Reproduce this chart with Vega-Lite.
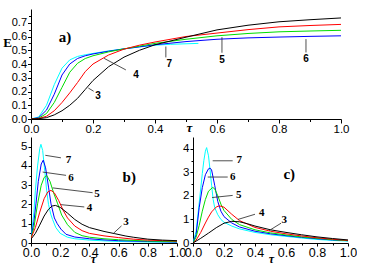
{
  "$schema": "https://vega.github.io/schema/vega-lite/v6.json",
  "padding": {"left": 2, "top": 9, "right": 0, "bottom": 0},
  "background": "white",
  "config": {
    "view": {"stroke": null},
    "axis": {"grid": false, "domainColor": "black", "tickColor": "black", "labelColor": "black", "labelFont": "Liberation Sans", "labelOverlap": false, "labelFlush": false, "domainWidth": 1, "tickWidth": 1, "titleColor": "black"},
    "text": {"color": "black"}
  },
  "bounds": "flush",
  "spacing": 18,
  "datasets": {
    "a": [
      {"s":"7","t":0,"v":0},{"s":"7","t":0.025,"v":0.015},{"s":"7","t":0.05,"v":0.1},{"s":"7","t":0.075,"v":0.25},{"s":"7","t":0.1,"v":0.37},{"s":"7","t":0.125,"v":0.43},{"s":"7","t":0.15,"v":0.455},{"s":"7","t":0.175,"v":0.467},{"s":"7","t":0.2,"v":0.477},{"s":"7","t":0.25,"v":0.495},{"s":"7","t":0.3,"v":0.51},{"s":"7","t":0.35,"v":0.524},{"s":"7","t":0.4,"v":0.537},{"s":"7","t":0.45,"v":0.543},{"s":"7","t":0.5,"v":0.547},{"s":"7","t":0.54,"v":0.55},
      {"s":"6","t":0,"v":0},{"s":"6","t":0.025,"v":0.01},{"s":"6","t":0.05,"v":0.065},{"s":"6","t":0.075,"v":0.18},{"s":"6","t":0.1,"v":0.32},{"s":"6","t":0.125,"v":0.4},{"s":"6","t":0.15,"v":0.44},{"s":"6","t":0.175,"v":0.46},{"s":"6","t":0.2,"v":0.473},{"s":"6","t":0.25,"v":0.493},{"s":"6","t":0.3,"v":0.51},{"s":"6","t":0.35,"v":0.525},{"s":"6","t":0.4,"v":0.54},{"s":"6","t":0.5,"v":0.563},{"s":"6","t":0.6,"v":0.58},{"s":"6","t":0.7,"v":0.59},{"s":"6","t":0.8,"v":0.596},{"s":"6","t":0.9,"v":0.601},{"s":"6","t":1.0,"v":0.605},
      {"s":"5","t":0,"v":0},{"s":"5","t":0.025,"v":0.006},{"s":"5","t":0.05,"v":0.04},{"s":"5","t":0.075,"v":0.12},{"s":"5","t":0.1,"v":0.23},{"s":"5","t":0.125,"v":0.34},{"s":"5","t":0.15,"v":0.405},{"s":"5","t":0.175,"v":0.44},{"s":"5","t":0.2,"v":0.46},{"s":"5","t":0.25,"v":0.488},{"s":"5","t":0.3,"v":0.51},{"s":"5","t":0.35,"v":0.53},{"s":"5","t":0.4,"v":0.55},{"s":"5","t":0.5,"v":0.58},{"s":"5","t":0.6,"v":0.605},{"s":"5","t":0.7,"v":0.622},{"s":"5","t":0.8,"v":0.634},{"s":"5","t":0.9,"v":0.64},{"s":"5","t":1.0,"v":0.645},
      {"s":"4","t":0,"v":0},{"s":"4","t":0.025,"v":0.004},{"s":"4","t":0.05,"v":0.02},{"s":"4","t":0.075,"v":0.06},{"s":"4","t":0.1,"v":0.12},{"s":"4","t":0.125,"v":0.19},{"s":"4","t":0.15,"v":0.265},{"s":"4","t":0.175,"v":0.345},{"s":"4","t":0.2,"v":0.4},{"s":"4","t":0.25,"v":0.465},{"s":"4","t":0.3,"v":0.508},{"s":"4","t":0.35,"v":0.537},{"s":"4","t":0.4,"v":0.56},{"s":"4","t":0.5,"v":0.6},{"s":"4","t":0.6,"v":0.625},{"s":"4","t":0.7,"v":0.65},{"s":"4","t":0.8,"v":0.67},{"s":"4","t":0.9,"v":0.68},{"s":"4","t":1.0,"v":0.688},
      {"s":"3","t":0,"v":0},{"s":"3","t":0.025,"v":0.002},{"s":"3","t":0.05,"v":0.01},{"s":"3","t":0.075,"v":0.03},{"s":"3","t":0.1,"v":0.06},{"s":"3","t":0.125,"v":0.1},{"s":"3","t":0.15,"v":0.15},{"s":"3","t":0.175,"v":0.215},{"s":"3","t":0.2,"v":0.28},{"s":"3","t":0.25,"v":0.38},{"s":"3","t":0.3,"v":0.45},{"s":"3","t":0.35,"v":0.5},{"s":"3","t":0.4,"v":0.54},{"s":"3","t":0.5,"v":0.595},{"s":"3","t":0.6,"v":0.648},{"s":"3","t":0.7,"v":0.682},{"s":"3","t":0.8,"v":0.707},{"s":"3","t":0.9,"v":0.722},{"s":"3","t":1.0,"v":0.735}
    ],
    "b": [
      {"s":"7","t":0,"v":0.25},{"s":"7","t":0.02,"v":1.6},{"s":"7","t":0.03,"v":2.74},{"s":"7","t":0.045,"v":4.0},{"s":"7","t":0.06,"v":4.9},{"s":"7","t":0.068,"v":5.12},{"s":"7","t":0.08,"v":4.8},{"s":"7","t":0.095,"v":3.7},{"s":"7","t":0.107,"v":2.74},{"s":"7","t":0.12,"v":2.0},{"s":"7","t":0.135,"v":1.5},{"s":"7","t":0.148,"v":1.22},{"s":"7","t":0.17,"v":0.8},{"s":"7","t":0.2,"v":0.5},{"s":"7","t":0.25,"v":0.3},{"s":"7","t":0.3,"v":0.22},{"s":"7","t":0.4,"v":0.15},{"s":"7","t":0.5,"v":0.11},{"s":"7","t":0.6,"v":0.08},{"s":"7","t":0.8,"v":0.05},{"s":"7","t":1.0,"v":0.04},
      {"s":"6","t":0,"v":0.25},{"s":"6","t":0.02,"v":1.1},{"s":"6","t":0.034,"v":2.03},{"s":"6","t":0.05,"v":3.2},{"s":"6","t":0.07,"v":4.1},{"s":"6","t":0.084,"v":4.3},{"s":"6","t":0.1,"v":3.9},{"s":"6","t":0.12,"v":2.9},{"s":"6","t":0.137,"v":2.03},{"s":"6","t":0.16,"v":1.3},{"s":"6","t":0.18,"v":1.0},{"s":"6","t":0.205,"v":0.72},{"s":"6","t":0.24,"v":0.45},{"s":"6","t":0.3,"v":0.31},{"s":"6","t":0.4,"v":0.22},{"s":"6","t":0.5,"v":0.16},{"s":"6","t":0.6,"v":0.12},{"s":"6","t":0.8,"v":0.08},{"s":"6","t":1.0,"v":0.05},
      {"s":"5","t":0,"v":0.25},{"s":"5","t":0.02,"v":0.8},{"s":"5","t":0.045,"v":2.03},{"s":"5","t":0.07,"v":3.0},{"s":"5","t":0.09,"v":3.4},{"s":"5","t":0.107,"v":3.51},{"s":"5","t":0.13,"v":3.2},{"s":"5","t":0.155,"v":2.6},{"s":"5","t":0.183,"v":2.03},{"s":"5","t":0.21,"v":1.45},{"s":"5","t":0.25,"v":0.95},{"s":"5","t":0.3,"v":0.55},{"s":"5","t":0.35,"v":0.38},{"s":"5","t":0.4,"v":0.3},{"s":"5","t":0.5,"v":0.22},{"s":"5","t":0.6,"v":0.17},{"s":"5","t":0.8,"v":0.1},{"s":"5","t":1.0,"v":0.07},
      {"s":"4","t":0,"v":0.25},{"s":"4","t":0.03,"v":0.8},{"s":"4","t":0.06,"v":1.6},{"s":"4","t":0.09,"v":2.3},{"s":"4","t":0.115,"v":2.65},{"s":"4","t":0.137,"v":2.73},{"s":"4","t":0.16,"v":2.6},{"s":"4","t":0.19,"v":2.2},{"s":"4","t":0.22,"v":1.7},{"s":"4","t":0.25,"v":1.3},{"s":"4","t":0.3,"v":0.88},{"s":"4","t":0.35,"v":0.64},{"s":"4","t":0.4,"v":0.5},{"s":"4","t":0.5,"v":0.37},{"s":"4","t":0.6,"v":0.28},{"s":"4","t":0.7,"v":0.2},{"s":"4","t":0.8,"v":0.15},{"s":"4","t":0.9,"v":0.12},{"s":"4","t":1.0,"v":0.1},
      {"s":"3","t":0,"v":0.2},{"s":"3","t":0.03,"v":0.5},{"s":"3","t":0.057,"v":0.89},{"s":"3","t":0.09,"v":1.4},{"s":"3","t":0.12,"v":1.75},{"s":"3","t":0.145,"v":1.92},{"s":"3","t":0.167,"v":1.95},{"s":"3","t":0.2,"v":1.85},{"s":"3","t":0.25,"v":1.55},{"s":"3","t":0.3,"v":1.22},{"s":"3","t":0.35,"v":0.97},{"s":"3","t":0.4,"v":0.8},{"s":"3","t":0.5,"v":0.6},{"s":"3","t":0.57,"v":0.49},{"s":"3","t":0.65,"v":0.36},{"s":"3","t":0.7,"v":0.3},{"s":"3","t":0.8,"v":0.2},{"s":"3","t":0.9,"v":0.15},{"s":"3","t":1.0,"v":0.12}
    ],
    "c": [
      {"s":"7","t":0,"v":0},{"s":"7","t":0.02,"v":0.5},{"s":"7","t":0.04,"v":1.7},{"s":"7","t":0.06,"v":2.95},{"s":"7","t":0.07,"v":3.5},{"s":"7","t":0.08,"v":3.9},{"s":"7","t":0.088,"v":4.05},{"s":"7","t":0.1,"v":3.7},{"s":"7","t":0.11,"v":3.1},{"s":"7","t":0.12,"v":2.45},{"s":"7","t":0.13,"v":1.85},{"s":"7","t":0.14,"v":1.5},{"s":"7","t":0.16,"v":1.2},{"s":"7","t":0.18,"v":1.0},{"s":"7","t":0.2,"v":0.88},{"s":"7","t":0.25,"v":0.72},{"s":"7","t":0.3,"v":0.6},{"s":"7","t":0.4,"v":0.45},{"s":"7","t":0.5,"v":0.35},{"s":"7","t":0.6,"v":0.28},{"s":"7","t":0.7,"v":0.21},{"s":"7","t":0.8,"v":0.15},{"s":"7","t":0.9,"v":0.11},{"s":"7","t":1.0,"v":0.08},
      {"s":"6","t":0,"v":0},{"s":"6","t":0.02,"v":0.35},{"s":"6","t":0.04,"v":1.5},{"s":"6","t":0.06,"v":2.35},{"s":"6","t":0.08,"v":2.9},{"s":"6","t":0.1,"v":3.15},{"s":"6","t":0.11,"v":3.18},{"s":"6","t":0.12,"v":3.1},{"s":"6","t":0.14,"v":2.45},{"s":"6","t":0.16,"v":1.76},{"s":"6","t":0.18,"v":1.35},{"s":"6","t":0.2,"v":1.12},{"s":"6","t":0.25,"v":0.85},{"s":"6","t":0.3,"v":0.68},{"s":"6","t":0.4,"v":0.5},{"s":"6","t":0.5,"v":0.39},{"s":"6","t":0.6,"v":0.31},{"s":"6","t":0.7,"v":0.24},{"s":"6","t":0.8,"v":0.18},{"s":"6","t":0.9,"v":0.13},{"s":"6","t":1.0,"v":0.1},
      {"s":"5","t":0,"v":0},{"s":"5","t":0.02,"v":0.25},{"s":"5","t":0.04,"v":0.75},{"s":"5","t":0.06,"v":1.35},{"s":"5","t":0.08,"v":1.85},{"s":"5","t":0.1,"v":2.2},{"s":"5","t":0.127,"v":2.36},{"s":"5","t":0.14,"v":2.3},{"s":"5","t":0.16,"v":2.0},{"s":"5","t":0.18,"v":1.65},{"s":"5","t":0.2,"v":1.38},{"s":"5","t":0.25,"v":1.0},{"s":"5","t":0.3,"v":0.78},{"s":"5","t":0.4,"v":0.56},{"s":"5","t":0.5,"v":0.43},{"s":"5","t":0.6,"v":0.34},{"s":"5","t":0.7,"v":0.26},{"s":"5","t":0.8,"v":0.2},{"s":"5","t":0.9,"v":0.14},{"s":"5","t":1.0,"v":0.1},
      {"s":"4","t":0,"v":0},{"s":"4","t":0.02,"v":0.12},{"s":"4","t":0.05,"v":0.45},{"s":"4","t":0.08,"v":0.85},{"s":"4","t":0.1,"v":1.1},{"s":"4","t":0.12,"v":1.32},{"s":"4","t":0.15,"v":1.53},{"s":"4","t":0.17,"v":1.58},{"s":"4","t":0.2,"v":1.52},{"s":"4","t":0.25,"v":1.22},{"s":"4","t":0.3,"v":0.95},{"s":"4","t":0.4,"v":0.66},{"s":"4","t":0.5,"v":0.5},{"s":"4","t":0.6,"v":0.39},{"s":"4","t":0.7,"v":0.3},{"s":"4","t":0.8,"v":0.22},{"s":"4","t":0.9,"v":0.16},{"s":"4","t":1.0,"v":0.11},
      {"s":"3","t":0,"v":0},{"s":"3","t":0.05,"v":0.2},{"s":"3","t":0.1,"v":0.42},{"s":"3","t":0.15,"v":0.65},{"s":"3","t":0.2,"v":0.84},{"s":"3","t":0.25,"v":0.92},{"s":"3","t":0.3,"v":0.9},{"s":"3","t":0.35,"v":0.82},{"s":"3","t":0.4,"v":0.72},{"s":"3","t":0.5,"v":0.56},{"s":"3","t":0.6,"v":0.45},{"s":"3","t":0.7,"v":0.35},{"s":"3","t":0.8,"v":0.26},{"s":"3","t":0.9,"v":0.19},{"s":"3","t":1.0,"v":0.13}
    ]
  },
  "vconcat": [
    {
      "width": 310,
      "height": 110,
      "resolve": {"axis": {"x": "independent", "y": "independent"}},
      "layer": [
        {
          "data": {"name": "a"},
          "mark": {"type": "line", "strokeWidth": 1, "clip": true},
          "encoding": {
            "x": {"field": "t", "type": "quantitative", "scale": {"domain": [0, 1]},
              "axis": {"orient": "bottom", "values": [0,0.2,0.4,0.6,0.8,1.0], "format": ".1f", "labelFontSize": 11.5, "labelPadding": 0, "labelOverlap": false, "tickSize": 4,
                "title": "τ", "titleFont": "Liberation Serif", "titleFontStyle": "italic", "titleFontWeight": "bold", "titleFontSize": 13, "titleX": 158, "titleY": 8, "titleBaseline": "middle", "titleAlign": "center"}},
            "y": {"field": "v", "type": "quantitative", "scale": {"domain": [0, 0.75]},
              "axis": {"orient": "left", "values": [0,0.1,0.2,0.3,0.4,0.5,0.6,0.7], "format": ".1f", "labelFontSize": 11, "labelPadding": 1, "labelOverlap": false, "tickSize": 3.5,
                "title": "E", "titleFont": "Liberation Serif", "titleFontWeight": "bold", "titleFontSize": 13, "titleAngle": 0, "titleX": -24, "titleY": 33, "titleAlign": "center", "titleBaseline": "middle"}},
            "color": {"field": "s", "type": "nominal", "scale": {"domain": ["3","4","5","6","7"], "range": ["#000000","#ff0000","#00dd00","#0000ff","#00ffff"]}, "legend": null}
          }
        },
        {
          "data": {"values": [
            {"t":0.185,"v":0.225,"t2":0.202,"v2":0.202},
            {"t":0.306,"v":0.357,"t2":0.236,"v2":0.441},
            {"t":0.435,"v":0.448,"t2":0.435,"v2":0.527},
            {"t":0.616,"v":0.482,"t2":0.616,"v2":0.595},
            {"t":0.887,"v":0.484,"t2":0.887,"v2":0.581}
          ]},
          "mark": {"type": "rule", "strokeWidth": 0.8, "color": "#222222"},
          "encoding": {
            "x": {"field": "t", "type": "quantitative", "axis": {"orient": "bottom", "values": [0.1,0.3,0.5,0.7,0.9], "labels": false, "domain": false, "title": null, "tickSize": 2.5}},
            "y": {"field": "v", "type": "quantitative", "axis": {"orient": "left", "values": [0.05,0.15,0.25,0.35,0.45,0.55,0.65,0.75], "labels": false, "domain": false, "title": null, "tickSize": 2.5}},
            "x2": {"field": "t2"}, "y2": {"field": "v2"}}
        },
        {
          "data": {"values": [
            {"t":0.216,"v":0.168,"lab":"3"},
            {"t":0.339,"v":0.323,"lab":"4"},
            {"t":0.446,"v":0.402,"lab":"7"},
            {"t":0.616,"v":0.43,"lab":"5"},
            {"t":0.887,"v":0.436,"lab":"6"}
          ]},
          "mark": {"type": "text", "font": "Liberation Sans", "fontWeight": "bold", "fontSize": 10, "align": "center", "baseline": "middle"},
          "encoding": {"x": {"field": "t", "type": "quantitative", "axis": null}, "y": {"field": "v", "type": "quantitative", "axis": null}, "text": {"field": "lab"}}
        },
        {
          "data": {"values": [{"t":0.11,"v":0.593,"lab":"a)"}]},
          "mark": {"type": "text", "font": "Liberation Serif", "fontWeight": "bold", "fontSize": 15, "align": "center", "baseline": "middle"},
          "encoding": {"x": {"field": "t", "type": "quantitative", "axis": null}, "y": {"field": "v", "type": "quantitative", "axis": null}, "text": {"field": "lab"}}
        }
      ]
    },
    {
      "hconcat": [
        {
          "width": 146,
          "height": 106,
          "resolve": {"axis": {"x": "independent", "y": "independent"}},
          "layer": [
            {
              "data": {"name": "b"},
              "mark": {"type": "line", "strokeWidth": 1, "clip": true},
              "encoding": {
                "x": {"field": "t", "type": "quantitative", "scale": {"domain": [0, 1]},
                  "axis": {"orient": "bottom", "values": [0,0.2,0.4,0.6,0.8,1.0], "format": ".1f", "labelFontSize": 12.5, "labelPadding": 0, "labelOverlap": false, "tickSize": 3,
                    "title": "τ", "titleFont": "Liberation Serif", "titleFontStyle": "italic", "titleFontWeight": "bold", "titleFontSize": 12, "titleX": 62, "titleY": 15, "titleBaseline": "middle", "titleAlign": "center"}},
                "y": {"field": "v", "type": "quantitative", "scale": {"domain": [0, 5.25]},
                  "axis": {"orient": "left", "values": [0,1,2,3,4,5], "format": "d", "labelFontSize": 11.5, "labelPadding": 1, "labelOverlap": false, "tickSize": 3, "title": null}},
                "color": {"field": "s", "type": "nominal", "scale": {"domain": ["3","4","5","6","7"], "range": ["#000000","#ff0000","#00dd00","#0000ff","#00ffff"]}, "legend": null}
              }
            },
            {
              "data": {"values": [
                {"t":0.205,"v":4.42,"t2":0.098,"v2":4.55},
                {"t":0.24,"v":3.51,"t2":0.08,"v2":3.68},
                {"t":0.422,"v":2.61,"t2":0.148,"v2":2.86},
                {"t":0.365,"v":1.87,"t2":0.205,"v2":1.99},
                {"t":0.62,"v":0.89,"t2":0.566,"v2":0.51}
              ]},
              "mark": {"type": "rule", "strokeWidth": 0.8, "color": "#222222"},
              "encoding": {
                "x": {"field": "t", "type": "quantitative", "axis": {"orient": "bottom", "values": [0.1,0.3,0.5,0.7,0.9], "labels": false, "domain": false, "title": null, "tickSize": 2}},
                "y": {"field": "v", "type": "quantitative", "axis": {"orient": "left", "values": [0.5,1.5,2.5,3.5,4.5], "labels": false, "domain": false, "title": null, "tickSize": 2}},
                "x2": {"field": "t2"}, "y2": {"field": "v2"}}
            },
            {
              "data": {"values": [
                {"t":0.256,"v":4.33,"lab":"7"},
                {"t":0.274,"v":3.38,"lab":"6"},
                {"t":0.452,"v":2.56,"lab":"5"},
                {"t":0.4,"v":1.82,"lab":"4"},
                {"t":0.65,"v":1.08,"lab":"3"}
              ]},
              "mark": {"type": "text", "font": "Liberation Serif", "fontWeight": "bold", "fontSize": 11, "align": "center", "baseline": "middle"},
              "encoding": {"x": {"field": "t", "type": "quantitative", "axis": null}, "y": {"field": "v", "type": "quantitative", "axis": null}, "text": {"field": "lab"}}
            },
            {
              "data": {"values": [{"t":0.673,"v":3.43,"lab":"b)"}]},
              "mark": {"type": "text", "font": "Liberation Serif", "fontWeight": "bold", "fontSize": 15, "align": "center", "baseline": "middle"},
              "encoding": {"x": {"field": "t", "type": "quantitative", "axis": null}, "y": {"field": "v", "type": "quantitative", "axis": null}, "text": {"field": "lab"}}
            }
          ]
        },
        {
          "width": 155,
          "height": 106,
          "resolve": {"axis": {"x": "independent", "y": "independent"}},
          "layer": [
            {
              "data": {"name": "c"},
              "mark": {"type": "line", "strokeWidth": 1, "clip": true},
              "encoding": {
                "x": {"field": "t", "type": "quantitative", "scale": {"domain": [0, 1]},
                  "axis": {"orient": "bottom", "values": [0,0.2,0.4,0.6,0.8,1.0], "format": ".1f", "labelFontSize": 12.5, "labelPadding": 0, "labelOverlap": false, "tickSize": 3,
                    "title": "τ", "titleFont": "Liberation Serif", "titleFontStyle": "italic", "titleFontWeight": "bold", "titleFontSize": 12, "titleX": 78, "titleY": 15, "titleBaseline": "middle", "titleAlign": "center"}},
                "y": {"field": "v", "type": "quantitative", "scale": {"domain": [0, 4.5]},
                  "axis": {"orient": "left", "values": [0,1,2,3,4], "format": "d", "labelFontSize": 11.5, "labelPadding": 1, "labelOverlap": false, "tickSize": 3, "title": null}},
                "color": {"field": "s", "type": "nominal", "scale": {"domain": ["3","4","5","6","7"], "range": ["#000000","#ff0000","#00dd00","#0000ff","#00ffff"]}, "legend": null}
              }
            },
            {
              "data": {"values": [
                {"t":0.256,"v":3.49,"t2":0.127,"v2":3.49},
                {"t":0.224,"v":2.8,"t2":0.095,"v2":2.8},
                {"t":0.256,"v":2.02,"t2":0.123,"v2":1.93},
                {"t":0.4,"v":1.22,"t2":0.29,"v2":1.0},
                {"t":0.568,"v":0.84,"t2":0.492,"v2":0.53}
              ]},
              "mark": {"type": "rule", "strokeWidth": 0.8, "color": "#222222"},
              "encoding": {
                "x": {"field": "t", "type": "quantitative", "axis": {"orient": "bottom", "values": [0.1,0.3,0.5,0.7,0.9], "labels": false, "domain": false, "title": null, "tickSize": 2}},
                "y": {"field": "v", "type": "quantitative", "axis": {"orient": "left", "values": [0.5,1.5,2.5,3.5], "labels": false, "domain": false, "title": null, "tickSize": 2}},
                "x2": {"field": "t2"}, "y2": {"field": "v2"}}
            },
            {
              "data": {"values": [
                {"t":0.299,"v":3.53,"lab":"7"},
                {"t":0.256,"v":2.8,"lab":"6"},
                {"t":0.295,"v":2.05,"lab":"5"},
                {"t":0.443,"v":1.27,"lab":"4"},
                {"t":0.589,"v":0.96,"lab":"3"}
              ]},
              "mark": {"type": "text", "font": "Liberation Serif", "fontWeight": "bold", "fontSize": 11, "align": "center", "baseline": "middle"},
              "encoding": {"x": {"field": "t", "type": "quantitative", "axis": null}, "y": {"field": "v", "type": "quantitative", "axis": null}, "text": {"field": "lab"}}
            },
            {
              "data": {"values": [{"t":0.621,"v":2.94,"lab":"c)"}]},
              "mark": {"type": "text", "font": "Liberation Serif", "fontWeight": "bold", "fontSize": 15, "align": "center", "baseline": "middle"},
              "encoding": {"x": {"field": "t", "type": "quantitative", "axis": null}, "y": {"field": "v", "type": "quantitative", "axis": null}, "text": {"field": "lab"}}
            }
          ]
        }
      ],
      "spacing": 16,
      "bounds": "flush"
    }
  ]
}
